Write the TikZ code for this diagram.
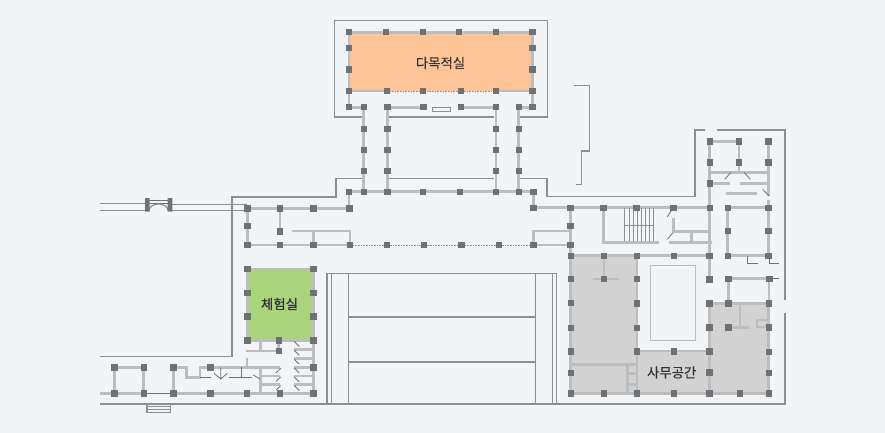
\documentclass[tikz,border=0pt]{standalone}
\usepackage{fontspec}
\setmainfont{Noto Sans CJK KR}
\newfontfamily\labelfont[FakeBold=0.25]{Noto Sans CJK KR}
\definecolor{pagebg}{HTML}{F2F5F7}
\definecolor{wallgray}{HTML}{BBBDBE}
\definecolor{linegray}{HTML}{8C8E90}
\definecolor{postgray}{HTML}{707173}
\definecolor{officegray}{HTML}{D2D2D3}
\definecolor{hallorange}{HTML}{FDC498}
\definecolor{roomgreen}{HTML}{AAD47C}
\tikzset{
  wall/.style={draw=wallgray,line width=2.9pt},
  outline/.style={draw=linegray,line width=1.2pt},
  thin line/.style={draw=postgray,line width=0.8pt},
  roomlabel/.style={text=black!80,font=\labelfont\fontsize{13.4}{15}\selectfont,inner sep=0pt},
}
\newcommand{\posts}[1]{\foreach \px/\py in {#1} \fill[postgray] (\px-3.2,\py-3.2) rectangle (\px+3.2,\py+3.2);}
\begin{document}
\begin{tikzpicture}[x=1pt,y=-1pt]
\fill[pagebg] (0,0) rectangle (885,433);
\useasboundingbox (0,0) rectangle (885,433);
% room fills
\fill[hallorange] (349,32) rectangle (532,91);
\fill[roomgreen] (247,269) rectangle (313,340);
\fill[officegray] (571,256) rectangle (637,393) (637,351) rectangle (709,393) (709,303) rectangle (769,393);
% site outline
\draw[outline] (363,117) -- (334.5,117) -- (334.5,20.5) -- (547.5,20.5) -- (547.5,117) -- (520,117);
\draw[outline] (388,117) -- (494,117) (388,178.5) -- (494,178.5);
\draw[outline] (362,178.5) -- (336,178.5) -- (336,197) -- (232,197) -- (232,356.5) -- (100,356.5);
\draw[outline] (520,178.5) -- (547,178.5) -- (547,196.5) -- (695,196.5) -- (695,130) -- (705,130);
\draw[outline] (717,130) -- (785,130) -- (785,300) (785,313) -- (785,404) -- (100,404);
\draw[outline] (574,85.5) -- (589.5,85.5) -- (589.5,151) -- (581.5,151) -- (581.5,184.5) -- (575.5,184.5);
% middle block
\draw[outline] (327,404) -- (327,273.7) -- (556.3,273.7) -- (556.3,404);
\foreach \vx in {331.7,348.3,535.7,552.3} \draw[outline] (\vx,273.7) -- (\vx,404);
\draw[outline] (348.3,317) -- (535.7,317) (348.3,362) -- (535.7,362);
% west passage
\draw[outline] (100,203.3) -- (147,203.3) (100,210.5) -- (147,210.5);
\draw[outline] (170,204.5) -- (246.7,204.5) (170,210.5) -- (246.7,210.5);
\draw[thin line] (147,200) -- (170,200) (147,203.3) -- (170,203.3);
\draw[outline] (149,210.5) arc (180:360:9.5 and 6.5);
\fill[postgray] (145,198) rectangle (149.7,211.5) (167.7,198) rectangle (172.3,211.5);
% entrance steps
\draw[outline] (147,404) rectangle (170.7,412.3) (147,406.8) -- (170.7,406.8) (147,409.5) -- (170.7,409.5);
% top hall
\draw[wall] (349,107.3) -- (349,32.3) -- (532.3,32.3) -- (532.3,107.3);
\draw[wall] (349,91) -- (387,91) (496,91) -- (532.3,91);
\draw[wall] (349,107.3) -- (363.7,107.3) (387.3,107.3) -- (423.3,107.3) (461,107.3) -- (496,107.3) (518.7,107.3) -- (532.3,107.3);
\draw[densely dotted,draw=linegray,line width=0.6pt] (387,91) -- (496,91);
\draw[draw=linegray,line width=0.9pt] (432.7,107) rectangle (450.3,111);
% corridors
\foreach \vx in {363.7,387.3,496,518.7} \draw[wall] (\vx,107.3) -- (\vx,191.7);
\draw[wall] (349,208) -- (349,191.7) -- (533.3,191.7) -- (533.3,207.7) -- (570.3,207.7);
% west wing
\draw[wall] (349.3,208.3) -- (247.3,208.3) -- (247.3,245) -- (349.7,245);
\draw[wall] (280,208.3) -- (280,231.3) (292.3,231) -- (350,231) -- (350,245) (313.3,231) -- (313.3,245);
\draw[densely dotted,draw=linegray,line width=0.6pt] (349.7,245) -- (533.3,245);
\draw[wall] (533.3,245) -- (570.3,245) (570.3,231) -- (533.3,231) -- (533.3,245);
% experience room
\draw[wall] (247.3,269) rectangle (313.3,340.3);
\draw[wall] (260.7,340.3) -- (260.7,351) (245.7,351) -- (278.7,351) -- (278.7,340.3);
\draw[wall] (313.3,340.3) -- (313.3,393.3);
\foreach \ry in {349.3,358.3,367.3,376,384.7} \draw[wall] (294,\ry) -- (313.3,\ry);
\foreach \ry in {341.3,350,359,367.7,376.7,385.3} \draw[thin line] (294,\ry) -- (299.3,\ry+5.3);
% south-west rooms
\draw[wall] (100,393.3) -- (143.7,393.3) (173.3,393.3) -- (313.3,393.3);
\draw[thin line] (143.7,393.3) -- (173.3,393.3);
\draw[wall] (114.3,393.3) -- (114.3,367.3) -- (143.7,367.3) -- (143.7,393.3);
\draw[wall] (173.3,393.3) -- (173.3,367.3) -- (186.7,367.3) -- (186.7,377.7) -- (200,377.7) -- (200,367.3) -- (280,367.3);
\draw[wall] (247,357.7) -- (247,367.3) (260.7,367.3) -- (260.7,393.3) (260.7,376) -- (280,376) (260.7,384.7) -- (280,384.7);
\draw[thin line] (200,377.7) -- (210.7,377.7) (229.3,377.7) -- (251.7,377.7) (241.7,367.3) -- (241.7,377.7);
\draw[thin line] (214,373.3) -- (220.7,379) -- (227.3,373.3) (220.7,367.3) -- (220.7,379) (253.3,375) -- (260,379);
\foreach \ry in {368.3,377,385.7} \draw[thin line] (280.7,\ry) -- (276,\ry+4.4);
% east wing
\draw[wall] (570.3,207.7) -- (709.7,207.7) (570.7,207.7) -- (570.7,393.3) -- (768.7,393.3) -- (768.7,303.3) -- (709.3,303.3);
\draw[wall] (570.7,255.7) -- (709.7,255.7) (709.7,141.3) -- (709.7,279.3) (709.3,303.3) -- (709.3,393.3);
\draw[wall] (604,255.7) -- (604,279) (592.7,279) -- (619.3,279) (637,255.7) -- (637,393.3) (637,351) -- (709.3,351);
\draw[wall] (570.7,364.7) -- (637,364.7) (627.3,364.7) -- (627.3,393.3) (627.3,373.3) -- (637,373.3) (627.3,384.3) -- (637,384.3);
\draw[draw=wallgray,line width=1.2pt] (650.7,265.7) rectangle (695.7,340.7);
\draw[wall] (603.3,207.7) -- (603.3,242.3) -- (659.3,242.3);
\foreach \sx in {624.3,628.9,633.3,637.3,641.3,645.3,649.3,653.7} \draw[draw=linegray,line width=0.7pt] (\sx,207.7) -- (\sx,240.8);
\draw[draw=linegray,line width=0.7pt] (624.3,225.7) -- (653.7,225.7);
\draw[thin line] (673.3,207.7) -- (667.3,216.7) (673.3,232.3) -- (667.3,239.3);
\draw[wall] (673.3,218.3) -- (673.3,231.7) -- (709.7,231.7) (669.3,242.3) -- (711.7,242.3) (691.7,231.7) -- (691.7,242.3);
% north-east rooms
\draw[wall] (709.7,141.3) -- (739,141.3) -- (739,172.3) (768.3,141.3) -- (768.3,196) (709.7,172.3) -- (768.3,172.3);
\draw[wall] (709.7,183.3) -- (730,183.3) (740,183.3) -- (768.3,183.3) (726,193.3) -- (757.3,193.3);
\draw[thin line] (731,172.3) -- (724.7,179.3) (744,172.3) -- (750.3,179.3) (762.7,189.3) -- (769,196);
\draw[wall] (768.3,200) -- (768.3,255.7) -- (727.7,255.7) -- (727.7,207.7) -- (768.3,207.7);
\draw[thin line] (747.3,255.7) -- (747.3,263.7) -- (757.7,263.7) (769.7,255.7) -- (769.7,263.7) -- (779.3,263.7);
% south-east rooms
\draw[wall] (769,303.3) -- (769,278.7) -- (728.3,278.7) -- (728.3,303.3);
\draw[thin line] (769,278.7) -- (779.3,278.7);
\draw[wall] (740,303.3) -- (740,327.3) (728.3,327.3) -- (748.7,327.3);
\draw[draw=wallgray,line width=1.8pt] (768.7,320) -- (757.3,320) -- (757.3,327.3) -- (768.7,327.3);
% posts
\posts{349/32.3,386/32.3,422.7/32.3,459/32.3,495.7/32.3,532.3/32.3,349/48,349/69.7,349/91,532.3/48,532.3/69.7,532.3/91,387/91,422.7/91,461/91,496/91}
\posts{349/107.3,363.7/107.3,387.3/107.3,423.3/107.3,461/107.3,496/107.3,518.7/107.3,532.3/107.3}
\posts{363.7/128.7,363.7/149.7,363.7/171,387.3/128.7,387.3/149.7,387.3/171,496/128.7,496/149.7,496/171,518.7/128.7,518.7/149.7,518.7/171}
\posts{349/191.7,363.7/191.7,387.3/191.7,423/191.7,459.7/191.7,496/191.7,518.7/191.7,533.3/191.7,533.3/207.7}
\posts{247.3/208.3,280/208.3,313.3/208.3,349.3/208.3,247.3/226,280/231.3,247.3/245,280/245,313.3/245,349.7/245}
\posts{386.7/245,424/245,461.3/245,498.7/245,533.3/245}
\posts{570.3/207.7,603.3/207.7,636.3/207.7,673.3/207.7,709.7/207.7,570.3/226,570.3/244.7}
\posts{570.7/255.7,604/255.7,637/255.7,673.7/255.7,709.3/255.7,570.7/279,570.7/303,570.7/327.7,570.7/351.3,570.7/372.7,570.7/393.3}
\posts{604/279,637/279,637/303.3,637/327.7,637/351.3,673.7/351.3,604/393.3,637/393.3,673.7/393.3,709.3/393.3,740/393.3,768.7/393.3}
\posts{709.3/279.3,709.3/303.3,709.3/327.3,709.3/351.3,709.3/372.3,728.3/303.3,768.7/303.3,769/327.3,769/351.7,769/372.7,728.3/278.7,769.3/278.7,728.3/327.3}
\posts{709.7/141.3,739/141.3,768.3/141.3,709.7/162.3,739/162.3,768.3/162.3,709.7/183.3}
\posts{727.7/207.7,768.3/207.7,727.7/231,768.3/231,727.7/255.7,768.3/255.7}
\posts{247.3/269,313.3/269,247.3/292.7,313.3/292.7,247.3/316.3,313.3/316.3,247.3/340.3,278.7/340.3,313.3/340.3,278.7/350.7}
\posts{114.3/367.3,143.7/367.3,173.3/367.3,210.3/367.3,313.3/367.3,114.3/393.3,143.7/393.3,173.3/393.3,210.3/393.3,247/393.3,280/393.3,313.3/393.3}
% labels
\node[roomlabel] (hall) at (440.5,63) {다목적실};
\node[roomlabel] (experience) at (279.5,304) {체험실};
\node[roomlabel] (office) at (671.7,372.5) {사무공간};
\end{tikzpicture}
\end{document}
